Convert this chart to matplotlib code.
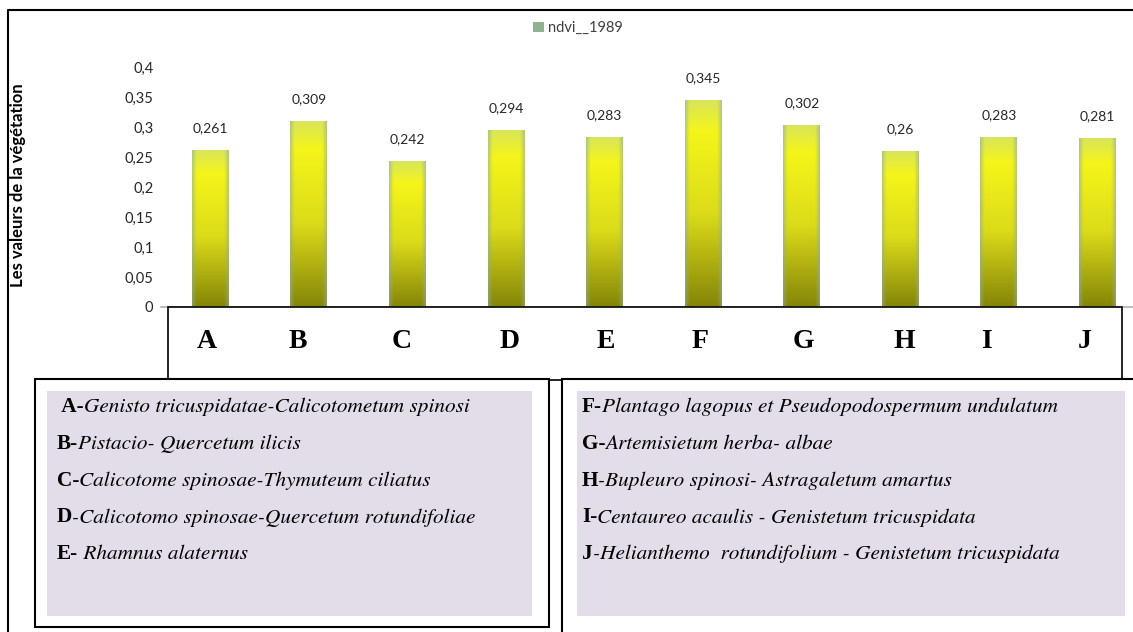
import numpy as np
import matplotlib.pyplot as plt
from matplotlib.patches import Rectangle, Patch
from matplotlib.lines import Line2D
from matplotlib.text import Annotation
from matplotlib.font_manager import FontProperties
from matplotlib.ticker import FuncFormatter

W, H = 1133, 632

# groupements vegetaux et valeurs NDVI 1989
groupes = ['A', 'B', 'C', 'D', 'E', 'F', 'G', 'H', 'I', 'J']
ndvi_1989 = [0.261, 0.309, 0.242, 0.294, 0.283, 0.345, 0.302, 0.26, 0.283, 0.281]
y_ticks = [0, 0.05, 0.1, 0.15, 0.2, 0.25, 0.3, 0.35, 0.4]

legende_gauche = [
    (' A-', 'Genisto tricuspidatae-Calicotometum spinosi'),
    ('B-', 'Pistacio- Quercetum ilicis'),
    ('C-', 'Calicotome spinosae-Thymuteum ciliatus'),
    ('D', '-Calicotomo spinosae-Quercetum rotundifoliae'),
    ('E-', ' Rhamnus alaternus'),
]
legende_droite = [
    ('F-', 'Plantago lagopus et Pseudopodospermum undulatum'),
    ('G-', 'Artemisietum herba- albae'),
    ('H', '-Bupleuro spinosi- Astragaletum amartus'),
    ('I-', 'Centaureo acaulis - Genistetum tricuspidata'),
    ('J', '-Helianthemo  rotundifolium - Genistetum tricuspidata'),
]
# position horizontale des lettres dans le cadre (pixels)
lettres_x = [207, 298, 402, 510, 606, 700, 803, 904, 986, 1085]


def fx(px):
    return px / W


def fy(py):
    return 1 - py / H


def virgule(v, pos=None):
    return f'{v:g}'.replace('.', ',')


def degrade(n=200, m=40):
    # degrade vertical olive -> jaune, bords legerement bleutes
    t = np.linspace(0, 1, n)
    stops = [0, 0.45, 0.85, 1.0]
    cols = np.array([[0.52, 0.52, 0.03], [0.86, 0.86, 0.10],
                     [0.96, 0.96, 0.10], [0.85, 0.90, 0.35]])
    rgb = np.stack([np.interp(t, stops, cols[:, k]) for k in range(3)], axis=1)
    img = np.repeat(rgb[:, None, :], m, axis=1)
    u = np.linspace(0, 1, m)
    edge = np.clip(1 - np.minimum(u, 1 - u) / 0.12, 0, 1) * 0.55
    teinte = np.array([0.55, 0.68, 0.62])
    img = img * (1 - edge[None, :, None]) + teinte * edge[None, :, None]
    return img


fig = plt.figure(figsize=(W / 100, H / 100), dpi=100)
fig.patch.set_facecolor('white')

ax = fig.add_axes([fx(161), fy(307), fx(1133) - fx(161), fy(67) - fy(307)])
x = np.arange(len(groupes))
bars = ax.bar(x, ndvi_1989, width=0.375, color='none', edgecolor='none')
img = degrade()
for b, v in zip(bars, ndvi_1989):
    x0 = b.get_x()
    ax.imshow(img, extent=[x0, x0 + b.get_width(), 0, b.get_height()],
              aspect='auto', origin='lower', interpolation='bilinear', zorder=2)
    ax.annotate(virgule(v), (b.get_x() + b.get_width() / 2, v),
                xytext=(0, 16), textcoords='offset points',
                ha='center', va='center', fontsize=10, family='Lato', color='#262626')

ax.set_xlim(-0.5, 9.36)
ax.set_ylim(0, 0.4)
ax.set_yticks(y_ticks)
ax.yaxis.set_major_formatter(FuncFormatter(virgule))
ax.tick_params(axis='y', length=0, pad=5.5, labelsize=10.5, labelcolor='#262626')
for lab in ax.get_yticklabels():
    lab.set_family('Lato')
ax.set_xticks([])
for s in ['top', 'right', 'left']:
    ax.spines[s].set_visible(False)
ax.spines['bottom'].set_color('#b0b0b0')
ax.spines['bottom'].set_linewidth(1.2)

fig.text(fx(18), fy(185), 'Les valeurs de la végétation', rotation=90,
         ha='center', va='center', fontsize=12, fontweight='bold', family='Lato')

fig.legend(handles=[Patch(facecolor='#8fb38f', label='ndvi__1989')],
           loc='center', bbox_to_anchor=(fx(578), fy(28)), frameon=False,
           handlelength=0.7, handleheight=0.7, handletextpad=0.3,
           labelcolor='#404040', prop={'family': 'Lato', 'size': 10.5})

# cadre exterieur
fig.add_artist(Line2D([fx(8), fx(8), fx(1133)], [fy(632), fy(10), fy(10)],
                      color='black', lw=1.5))

# cadre des lettres
fig.add_artist(Rectangle((fx(168), fy(380)), fx(1122) - fx(168), fy(307) - fy(380),
                         transform=fig.transFigure, facecolor='white',
                         edgecolor='black', lw=1.2, zorder=3))
for lx, g in zip(lettres_x, groupes):
    fig.text(fx(lx), fy(342), g, ha='center', va='center', fontsize=20,
             fontweight='bold', family='Liberation Serif', zorder=4)

# cadres de legende
fig.add_artist(Rectangle((fx(35), fy(627)), fx(549) - fx(35), fy(379) - fy(627),
                         transform=fig.transFigure, facecolor='white',
                         edgecolor='black', lw=1.5, zorder=3))
fig.add_artist(Rectangle((fx(562), fy(640)), fx(1140) - fx(562), fy(379) - fy(640),
                         transform=fig.transFigure, facecolor='white',
                         edgecolor='black', lw=1.5, zorder=3))
for x0, x1 in [(47, 532), (577, 1125)]:
    fig.add_artist(Rectangle((fx(x0), fy(616)), fx(x1) - fx(x0), fy(391) - fy(616),
                             transform=fig.transFigure, facecolor='#e2dde9',
                             edgecolor='none', zorder=4))

fp_gras = FontProperties(family='Liberation Serif', weight='bold', size=15.3)
fp_ital = FontProperties(family='STIXGeneral', style='italic', size=15.3)


def ecrire(lignes, x0):
    for i, (pre, reste) in enumerate(lignes):
        y = 407 + i * 36.8
        t = fig.text(fx(x0), fy(y), pre, ha='left', va='center',
                     fontproperties=fp_gras, zorder=5)
        a = Annotation(reste, xy=(1, 0.5), xycoords=t, ha='left', va='center',
                       fontproperties=fp_ital, annotation_clip=False)
        a.set_zorder(5)
        fig.add_artist(a)


ecrire(legende_gauche, 57)
ecrire(legende_droite, 582)

fig.savefig('out.png', dpi=100)
